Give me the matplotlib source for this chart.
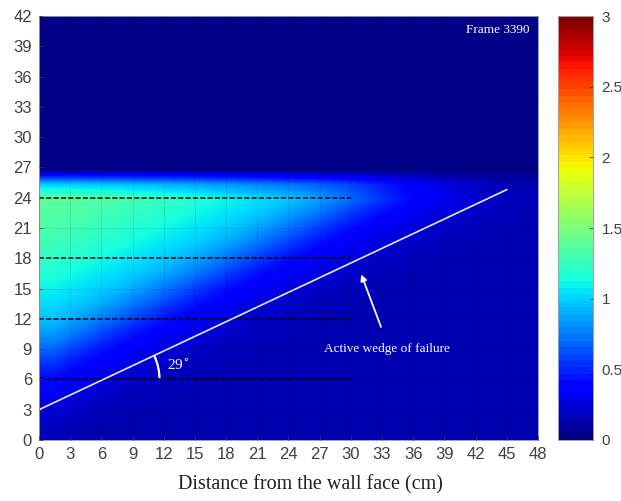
import numpy as np
import matplotlib
matplotlib.use("Agg")
import matplotlib.pyplot as plt
from matplotlib.patches import Arc
from matplotlib.cm import ScalarMappable
from matplotlib.colors import Normalize

# grid of the measured field: columns at x = 0..48 cm (step 3), rows at y = 0..42 cm (step 1.5)
x_nodes = [0, 3, 6, 9, 12, 15, 18, 21, 24, 27, 30, 33, 36, 39, 42, 45, 48]
y_nodes = [0, 1.5, 3, 4.5, 6, 7.5, 9, 10.5, 12, 13.5, 15, 16.5, 18, 19.5, 21,
           22.5, 24, 25.5, 27, 28.5, 30, 31.5, 33, 34.5, 36, 37.5, 39, 40.5, 42]

field_rows = [
    [0.16, 0.13, 0.12, 0.12, 0.12, 0.12, 0.12, 0.12, 0.12, 0.12, 0.12, 0.12, 0.12, 0.12, 0.12, 0.12, 0.12],
    [0.20, 0.16, 0.14, 0.13, 0.13, 0.13, 0.13, 0.13, 0.13, 0.13, 0.13, 0.13, 0.13, 0.13, 0.13, 0.13, 0.13],
    [0.26, 0.20, 0.16, 0.14, 0.14, 0.14, 0.14, 0.14, 0.14, 0.14, 0.14, 0.14, 0.14, 0.14, 0.14, 0.14, 0.14],
    [0.33, 0.26, 0.20, 0.16, 0.14, 0.14, 0.14, 0.14, 0.14, 0.14, 0.14, 0.14, 0.14, 0.14, 0.14, 0.14, 0.14],
    [0.42, 0.33, 0.26, 0.20, 0.16, 0.14, 0.14, 0.14, 0.14, 0.14, 0.14, 0.14, 0.14, 0.14, 0.14, 0.14, 0.14],
    [0.56, 0.42, 0.33, 0.26, 0.20, 0.16, 0.14, 0.14, 0.14, 0.14, 0.14, 0.14, 0.14, 0.14, 0.14, 0.14, 0.14],
    [0.72, 0.56, 0.42, 0.33, 0.26, 0.20, 0.16, 0.14, 0.14, 0.14, 0.14, 0.14, 0.14, 0.14, 0.14, 0.14, 0.14],
    [0.86, 0.72, 0.56, 0.42, 0.33, 0.26, 0.20, 0.16, 0.14, 0.14, 0.14, 0.14, 0.14, 0.14, 0.14, 0.14, 0.14],
    [0.97, 0.86, 0.72, 0.56, 0.42, 0.33, 0.26, 0.20, 0.16, 0.14, 0.14, 0.14, 0.14, 0.14, 0.14, 0.14, 0.14],
    [1.04, 0.97, 0.86, 0.72, 0.56, 0.42, 0.33, 0.26, 0.20, 0.16, 0.14, 0.14, 0.14, 0.14, 0.14, 0.14, 0.14],
    [1.10, 1.04, 0.97, 0.86, 0.72, 0.56, 0.42, 0.33, 0.26, 0.20, 0.16, 0.14, 0.14, 0.14, 0.14, 0.14, 0.14],
    [1.17, 1.10, 1.04, 0.97, 0.86, 0.72, 0.56, 0.42, 0.33, 0.26, 0.20, 0.16, 0.14, 0.14, 0.14, 0.14, 0.14],
    [1.23, 1.17, 1.10, 1.04, 0.97, 0.86, 0.72, 0.56, 0.42, 0.33, 0.26, 0.20, 0.16, 0.14, 0.14, 0.14, 0.14],
    [1.28, 1.23, 1.17, 1.10, 1.04, 0.97, 0.86, 0.72, 0.56, 0.42, 0.33, 0.26, 0.20, 0.16, 0.14, 0.14, 0.14],
    [1.33, 1.28, 1.23, 1.17, 1.10, 1.04, 0.97, 0.86, 0.72, 0.56, 0.42, 0.33, 0.26, 0.20, 0.16, 0.14, 0.14],
    [1.36, 1.33, 1.28, 1.23, 1.17, 1.10, 1.04, 0.97, 0.86, 0.72, 0.56, 0.42, 0.33, 0.26, 0.20, 0.16, 0.14],
    [1.38, 1.36, 1.33, 1.28, 1.23, 1.17, 1.10, 1.04, 0.97, 0.86, 0.72, 0.56, 0.42, 0.33, 0.26, 0.20, 0.16],
    [0.98, 0.97, 0.95, 0.92, 0.89, 0.85, 0.81, 0.76, 0.71, 0.66, 0.58, 0.48, 0.37, 0.27, 0.20, 0.16, 0.12],
    [0.02, 0.02, 0.02, 0.02, 0.02, 0.02, 0.02, 0.02, 0.02, 0.02, 0.02, 0.02, 0.02, 0.02, 0.02, 0.02, 0.02],
    [0.03, 0.03, 0.03, 0.03, 0.03, 0.03, 0.03, 0.03, 0.03, 0.03, 0.03, 0.03, 0.03, 0.03, 0.03, 0.03, 0.03],
    [0.03, 0.03, 0.03, 0.03, 0.03, 0.03, 0.03, 0.03, 0.03, 0.03, 0.03, 0.03, 0.03, 0.03, 0.03, 0.03, 0.03],
    [0.03, 0.03, 0.03, 0.03, 0.03, 0.03, 0.03, 0.03, 0.03, 0.03, 0.03, 0.03, 0.03, 0.03, 0.03, 0.03, 0.03],
    [0.03, 0.03, 0.03, 0.03, 0.03, 0.03, 0.03, 0.03, 0.03, 0.03, 0.03, 0.03, 0.03, 0.03, 0.03, 0.03, 0.03],
    [0.03, 0.03, 0.03, 0.03, 0.03, 0.03, 0.03, 0.03, 0.03, 0.03, 0.03, 0.03, 0.03, 0.03, 0.03, 0.03, 0.03],
    [0.03, 0.03, 0.03, 0.03, 0.03, 0.03, 0.03, 0.03, 0.03, 0.03, 0.03, 0.03, 0.03, 0.03, 0.03, 0.03, 0.03],
    [0.03, 0.03, 0.03, 0.03, 0.03, 0.03, 0.03, 0.03, 0.03, 0.03, 0.03, 0.03, 0.03, 0.03, 0.03, 0.03, 0.03],
    [0.03, 0.03, 0.03, 0.03, 0.03, 0.03, 0.03, 0.03, 0.03, 0.03, 0.03, 0.03, 0.03, 0.03, 0.03, 0.03, 0.03],
    [0.03, 0.03, 0.03, 0.03, 0.03, 0.03, 0.03, 0.03, 0.03, 0.03, 0.03, 0.03, 0.03, 0.03, 0.03, 0.03, 0.03],
    [0.03, 0.03, 0.03, 0.03, 0.03, 0.03, 0.03, 0.03, 0.03, 0.03, 0.03, 0.03, 0.03, 0.03, 0.03, 0.03, 0.03],
]

# reinforcement layers (dashed) and failure-wedge line
layer_heights = [6, 12, 18, 24]
layer_length = 30
wedge_start = (0, 3.0)
wedge_end = (45, 24.8)
wedge_angle_label = "29"

x_ticks = list(range(0, 49, 3))
y_ticks = list(range(0, 43, 3))
cbar_ticks = [0, 0.5, 1, 1.5, 2, 2.5, 3]
cbar_labels = ["0", "0.5", "1", "1.5", "2", "2.5", "3"]

fig = plt.figure(figsize=(6.21, 5.01), dpi=100)
ax = fig.add_axes([0.0628, 0.1218, 0.8035, 0.8462])
cax = fig.add_axes([0.8985, 0.1218, 0.0565, 0.8462])

Z = np.array(field_rows)
im = ax.imshow(Z, origin="lower", cmap="jet", vmin=0, vmax=3,
               extent=[x_nodes[0], x_nodes[-1], y_nodes[0], y_nodes[-1]],
               interpolation="bilinear", aspect="auto")

ax.set_xlim(0, 48)
ax.set_ylim(0, 42)
ax.set_xticks(x_ticks)
ax.set_yticks(y_ticks)
ax.grid(True, color="#000030", alpha=0.12, linewidth=0.6)
ax.set_axisbelow(False)

tick_color = "#404040"
ax.tick_params(direction="in", length=3, width=0.6, colors=tick_color,
               labelsize=12, labelcolor="#404040", pad=5)
for lab in ax.get_xticklabels() + ax.get_yticklabels():
    lab.set_fontfamily("Liberation Sans")
for s in ax.spines.values():
    s.set_color("#a0a0a0")
    s.set_linewidth(0.7)

ax.set_xlabel("Distance from the wall face (cm)", family="Liberation Serif",
              fontsize=14.5, color="#202020")
ax.xaxis.set_label_coords(0.543, -0.083)

for h in layer_heights:
    ax.plot([0, layer_length], [h, h], color="black", linestyle=(0, (3.2, 1.6)),
            linewidth=1.1)

ax.plot([wedge_start[0], wedge_end[0]], [wedge_start[1], wedge_end[1]],
        color="#e8e8f0", linewidth=1.2)

# angle arc between the wedge line and the lowest layer
slope = (wedge_end[1] - wedge_start[1]) / (wedge_end[0] - wedge_start[0])
x_cross = wedge_start[0] + (layer_heights[0] - wedge_start[1]) / slope
r = 5.4
arc = Arc((x_cross, layer_heights[0]), 2 * r, 2 * r * 10.4 / 10.1, angle=0,
          theta1=0, theta2=np.degrees(np.arctan(slope)), color="white", linewidth=1.6)
ax.add_patch(arc)
ax.text(12.3, 7.4, wedge_angle_label + r"$^{\circ}$", color="white",
        family="Liberation Serif", fontsize=11, va="center", ha="left")

ax.annotate("", xy=(31.0, 16.4), xytext=(32.9, 11.2),
            arrowprops=dict(arrowstyle="-|>", color="white", lw=1.3,
                            mutation_scale=9, shrinkA=0, shrinkB=0))
ax.text(33.5, 9.0, "Active wedge of failure", color="white",
        family="Liberation Serif", fontsize=9.5, ha="center", va="center")
ax.text(47.2, 40.6, "Frame 3390", color="white", family="Liberation Serif",
        fontsize=9.5, ha="right", va="center")

# colour scale drawn with the 64-step jet table
sm = ScalarMappable(norm=Normalize(0, 3), cmap=plt.get_cmap("jet", 64))
cb = fig.colorbar(sm, cax=cax, ticks=cbar_ticks)
cb.ax.set_yticklabels(cbar_labels)
cb.ax.tick_params(direction="in", length=3, width=0.6, colors=tick_color,
                  labelsize=11, labelcolor="#404040", pad=6)
for lab in cb.ax.get_yticklabels():
    lab.set_fontfamily("Liberation Sans")
cb.outline.set_edgecolor("#a0a0a0")
cb.outline.set_linewidth(0.7)

fig.savefig("out.png", dpi=100)
